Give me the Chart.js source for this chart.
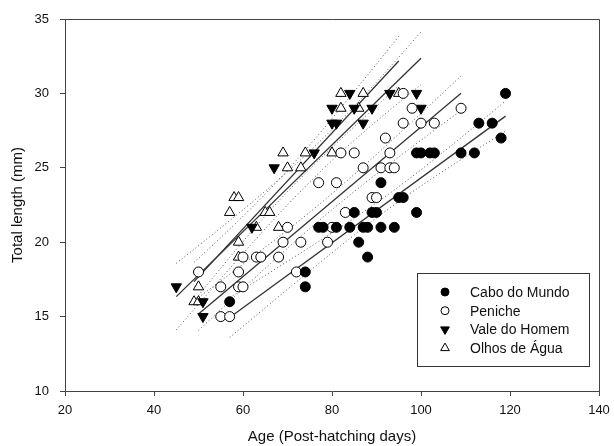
<!DOCTYPE html>
<html><head><meta charset="utf-8">
<script src="https://cdn.jsdelivr.net/npm/chart.js@4/dist/chart.umd.min.js"></script>
<style>html,body{margin:0;padding:0;background:#fff}#wrap{width:614px;height:446px}</style>
</head><body><div id="wrap"><canvas id="c" width="614" height="446"></canvas></div>
<script>
// ---- data ----
const xTicks = [20, 40, 60, 80, 100, 120, 140];
const yTicks = [10, 15, 20, 25, 30, 35];
const seriesNames = ["Cabo do Mundo", "Peniche", "Vale do Homem", "Olhos de Água"];

const caboAge = [57,74,74,77,78,81,84,87,88,91,94,86,88,85,89,90,99,91,95,96,99,100,102,103,109,112,113,116,118,119];
const caboLen = [16,18,17,21,21,21,21,21,21,21,21,20,19,22,22,22,22,24,23,23,26,26,26,26,26,26,28,28,27,30];

const penAge = [50,55,57,55,59,60,59,60,63,64,68,69,73,79,70,80,72,83,89,90,77,81,87,91,93,94,82,85,93,92,96,100,103,98,109,96];
const penLen = [18,15,15,17,17,17,18,19,19,19,19,20,20,20,21,21,18,22,23,23,24,24,25,25,25,25,26,26,26,27,28,28,28,29,29,30];

const valeAge = [45,51,51,62,67,76,80,81,87,80,85,89,100,84,93,99];
const valeLen = [17,15,16,21,25,26,28,28,28,29,29,29,29,30,30,30];

const olhosAge = [49,50,50,57,58,59,59,59,63,65,66,68,69,70,73,74,80,82,82,86,87,95];
const olhosLen = [16,16,17,22,23,23,20,19,21,22,22,21,26,25,25,26,26,29,30,29,30,30];

// ---- styles ----
const groups = [
  {age: caboAge, len: caboLen, style: 'circle', rot: 0, fill: '#000', r: 5},
  {age: penAge, len: penLen, style: 'circle', rot: 0, fill: '#fff', r: 5},
  {age: valeAge, len: valeLen, style: 'triangle', rot: 180, fill: '#000', r: 6},
  {age: olhosAge, len: olhosLen, style: 'triangle', rot: 0, fill: '#fff', r: 6}
];

function fit(xs, ys) {
  const n = xs.length;
  const mx = xs.reduce((a, b) => a + b, 0) / n;
  const my = ys.reduce((a, b) => a + b, 0) / n;
  let sxx = 0, sxy = 0;
  for (let i = 0; i < n; i++) { sxx += (xs[i]-mx)**2; sxy += (xs[i]-mx)*(ys[i]-my); }
  const b = sxy / sxx, a = my - b*mx;
  let sse = 0;
  for (let i = 0; i < n; i++) sse += (ys[i] - a - b*xs[i])**2;
  const s = Math.sqrt(sse/(n-2));
  const t = 1.96 + 2.5/(n-2);
  const xmin = Math.min(...xs), xmax = Math.max(...xs);
  const line = [{x: xmin, y: a+b*xmin}, {x: xmax, y: a+b*xmax}];
  const up = [], lo = [];
  const N = 40;
  for (let i = 0; i <= N; i++) {
    const x = xmin + (xmax-xmin)*i/N;
    const yh = a + b*x;
    const h = t*s*Math.sqrt(1/n + (x-mx)**2/sxx);
    up.push({x, y: yh+h}); lo.push({x, y: yh-h});
  }
  return {line, up, lo};
}

const datasets = [];
groups.forEach((g, i) => {
  datasets.push({
    label: seriesNames[i],
    data: g.age.map((x, k) => ({x, y: g.len[k]})),
    pointStyle: g.style, rotation: g.rot, pointRadius: g.r, pointHoverRadius: g.r,
    backgroundColor: g.fill, borderColor: '#000', borderWidth: 1,
    showLine: false, order: 1
  });
});
groups.forEach((g, i) => {
  const f = fit(g.age, g.len);
  datasets.push({label: '_fit'+i, data: f.line, showLine: true, pointRadius: 0, borderColor: '#333', borderWidth: 1.3, order: 2});
  datasets.push({label: '_up'+i, data: f.up, showLine: true, pointRadius: 0, borderColor: '#555', borderWidth: 1, borderDash: [1, 2.5], order: 3});
  datasets.push({label: '_lo'+i, data: f.lo, showLine: true, pointRadius: 0, borderColor: '#555', borderWidth: 1, borderDash: [1, 2.5], order: 3});
});

const FONT = "'Liberation Sans', Arial, sans-serif";

const boxAndLegend = {
  id: 'boxAndLegend',
  afterDraw(chart) {
    const ctx = chart.ctx, ca = chart.chartArea;
    ctx.save();
    ctx.strokeStyle = '#444'; ctx.lineWidth = 1;
    ctx.beginPath();
    ctx.moveTo(ca.left, ca.top + 0.5); ctx.lineTo(ca.right + 0.5, ca.top + 0.5); ctx.lineTo(ca.right + 0.5, ca.bottom);
    ctx.stroke();
    // legend
    const bx = ca.right - 182, by = ca.bottom - 118, bw = 172, bh = 93;
    ctx.fillStyle = '#fff';
    ctx.fillRect(bx, by, bw, bh);
    ctx.strokeStyle = '#333';
    ctx.strokeRect(bx + 0.5, by + 0.5, bw, bh);
    ctx.font = '14px ' + FONT;
    ctx.textBaseline = 'middle';
    groups.forEach((g, i) => {
      const cy = by + 19 + i*18.7;
      const cx = bx + 28;
      ctx.fillStyle = g.fill; ctx.strokeStyle = '#000'; ctx.lineWidth = 1;
      Chart.helpers.drawPoint(ctx, {pointStyle: g.style, rotation: g.rot, radius: g.style === 'circle' ? 4 : 5, borderWidth: 1}, cx, cy);
      ctx.fillStyle = '#111';
      ctx.fillText(seriesNames[i], bx + 53, cy + 1);
    });
    ctx.restore();
  }
};

new Chart(document.getElementById('c'), {
  type: 'scatter',
  data: {datasets},
  plugins: [boxAndLegend],
  options: {
    responsive: false, devicePixelRatio: 1, animation: false,
    layout: {padding: {top: 19, right: 15, left: 0, bottom: 0}},
    plugins: {legend: {display: false}, tooltip: {enabled: false}},
    scales: {
      x: {
        type: 'linear', min: 20, max: 140,
        afterBuildTicks: s => { s.ticks = xTicks.map(v => ({value: v})); },
        afterFit: s => { s.height = 55; s.paddingLeft = 0; s.paddingRight = 0; },
        grid: {drawOnChartArea: false, drawTicks: true, tickLength: 5, color: '#444'},
        border: {color: '#444', width: 1},
        ticks: {font: {size: 13, family: FONT}, color: '#111', padding: 7},
        title: {display: true, text: 'Age (Post-hatching days)', font: {size: 15, family: FONT}, color: '#111', padding: {top: 0, bottom: 0}}
      },
      y: {
        type: 'linear', min: 10, max: 35,
        afterBuildTicks: s => { s.ticks = yTicks.map(v => ({value: v})); },
        afterFit: s => { s.width = 65; s.paddingTop = 0; s.paddingBottom = 0; },
        grid: {drawOnChartArea: false, drawTicks: true, tickLength: 5, color: '#444'},
        border: {color: '#444', width: 1},
        ticks: {font: {size: 13, family: FONT}, color: '#111', padding: 11},
        title: {display: true, text: 'Total length (mm)', font: {size: 15, family: FONT}, color: '#111', padding: {top: 9, bottom: 0}}
      }
    }
  }
});
</script></body></html>
